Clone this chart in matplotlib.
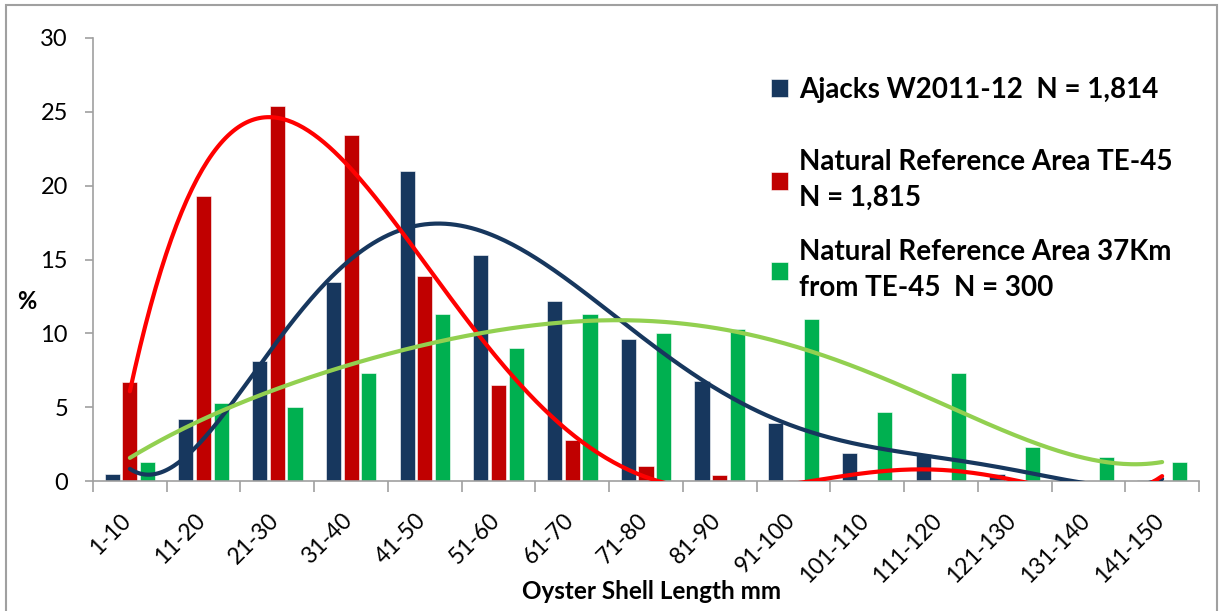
import numpy as np
import matplotlib.pyplot as plt
from matplotlib.patches import Rectangle
from matplotlib.transforms import ScaledTranslation

# Shell length classes (mm) and % of oysters in each class
size_classes = ['1-10', '11-20', '21-30', '31-40', '41-50', '51-60', '61-70', '71-80',
                '81-90', '91-100', '101-110', '111-120', '121-130', '131-140', '141-150']
ajacks = [0.5, 4.2, 8.1, 13.5, 21.0, 15.3, 12.2, 9.6, 6.8, 3.9, 1.9, 1.8, 0.5, 0.0, 0.1]
te45 = [6.7, 19.3, 25.4, 23.4, 13.9, 6.5, 2.8, 1.0, 0.4, 0.1, 0.0, 0.0, 0.0, 0.0, 0.0]
ref37 = [1.3, 5.3, 5.0, 7.3, 11.3, 9.0, 11.3, 10.0, 10.3, 11.0, 4.7, 7.3, 2.3, 1.6, 1.3]

labels = ['Ajacks W2011-12  N = 1,814',
          'Natural Reference Area TE-45\nN = 1,815',
          'Natural Reference Area 37Km\nfrom TE-45  N = 300']
bar_colors = ['#17375E', '#C00000', '#00B050']
trend_colors = ['#17375E', '#FF0000', '#92D050']

plt.rcParams['font.family'] = ['Lato', 'DejaVu Sans']

fig = plt.figure(figsize=(12.19, 6.11), dpi=100)
ax = fig.add_axes([93 / 1219, 1 - 481 / 611, (1199 - 93) / 1219, (481 - 38) / 611])

x = np.arange(len(size_classes))
bar_w = 0.205
step = 0.24
series = [ajacks, te45, ref37]
handles = []
for i, vals in enumerate(series):
    b = ax.bar(x + (i - 1) * step, vals, width=bar_w, color=bar_colors[i],
               edgecolor='white', linewidth=0.4, zorder=2)
    handles.append(b)

# 6th order polynomial trend lines, like the spreadsheet ones
xs = np.linspace(0, len(size_classes) - 1, 400)
for i, vals in enumerate(series):
    coef = np.polyfit(x, vals, 6)
    ax.plot(xs, np.polyval(coef, xs), color=trend_colors[i], lw=3, zorder=3,
            solid_capstyle='round')

ax.set_xlim(-0.5, len(size_classes) - 0.5)
ax.set_ylim(0, 30)
ax.set_yticks(np.arange(0, 31, 5))

# ticks on class boundaries, rotated class names under the centres
ax.set_xticks(np.arange(-0.5, len(size_classes), 1))
ax.set_xticklabels([])
ax.tick_params(axis='x', length=8, width=1.2, color='#A0A0A0', direction='out')
ax.tick_params(axis='y', length=6, width=1.2, color='#A0A0A0', pad=12, labelsize=17)
lab_trans = ax.get_xaxis_transform() + ScaledTranslation(-2 / 100, -36 / 100, fig.dpi_scale_trans)
for xi, name in zip(x, size_classes):
    ax.text(xi, 0, name, transform=lab_trans, rotation=45, rotation_mode='anchor',
            ha='right', va='center', fontsize=16.5, clip_on=False)

for s in ['top', 'right']:
    ax.spines[s].set_visible(False)
for s in ['left', 'bottom']:
    ax.spines[s].set_color('#A0A0A0')
    ax.spines[s].set_linewidth(1.2)

ax.set_xlabel('Oyster Shell Length mm', fontsize=17.5, fontweight='bold')
ax.xaxis.set_label_coords(0.505, -0.224)
fig.text(27 / 1219, 1 - 302 / 611, '%', fontsize=17, fontweight='bold',
         ha='center', va='center')

# one legend per series so each entry sits where it should
legend_y = [90, 180, 270]
for i in range(3):
    leg = fig.legend([handles[i]], [labels[i]], loc='center left',
                     bbox_to_anchor=(771 / 1219, 1 - legend_y[i] / 611),
                     frameon=False, borderpad=0, borderaxespad=0,
                     handlelength=0.62, handleheight=0.62, handletextpad=0.4,
                     prop={'size': 20, 'weight': 'bold'})
    for t in leg.get_texts():
        t.set_linespacing(1.5)

# outer chart border
fig.patches.append(Rectangle((6 / 1219, -0.05), (1217 - 6) / 1219, 1.05 - 5 / 611,
                             transform=fig.transFigure, fill=False,
                             edgecolor='#A0A0A0', linewidth=1.5))

fig.savefig('out.png', dpi=100)
